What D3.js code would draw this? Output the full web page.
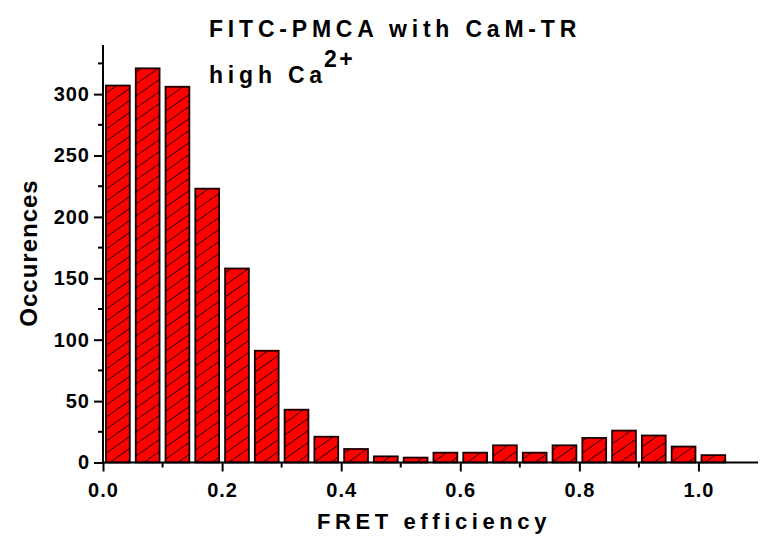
<!DOCTYPE html>
<html>
<head>
<meta charset="utf-8">
<script src="https://cdn.jsdelivr.net/npm/d3@7"></script>
<style>
  html, body { margin: 0; padding: 0; background: #fff; }
  svg { display: block; }
  text { font-family: "Liberation Sans", Arial, sans-serif; font-weight: bold; fill: #000; }
</style>
</head>
<body>
<svg id="chart" width="762" height="537"></svg>
<script>
// Histogram of FRET efficiency, bins of width 0.05 starting at 0.0
const binStarts = [0.00, 0.05, 0.10, 0.15, 0.20, 0.25, 0.30, 0.35, 0.40, 0.45,
                   0.50, 0.55, 0.60, 0.65, 0.70, 0.75, 0.80, 0.85, 0.90, 0.95, 1.00];
const counts    = [307, 321, 306, 223, 158, 91, 43, 21, 11, 5,
                   4, 8, 8, 14, 8, 14, 20, 26, 22, 13, 6];
const binWidth = 0.05;

const xTickValues = [0.0, 0.2, 0.4, 0.6, 0.8, 1.0];
const xMinorTicks = [0.1, 0.3, 0.5, 0.7, 0.9];
const yTickValues = [0, 50, 100, 150, 200, 250, 300];
const yMinorTicks = [25, 75, 125, 175, 225, 275, 325];

const titleLine1 = "FITC-PMCA with CaM-TR";
const titleLine2 = "high Ca";
const titleSup = "2+";
const xLabel = "FRET efficiency";
const yLabel = "Occurences";

const svg = d3.select("#chart");

const plot = { left: 103, right: 758, top: 45, bottom: 462.5 };

const x = d3.scaleLinear().domain([0, 1.1]).range([plot.left, plot.right]);
const y = d3.scaleLinear().domain([0, 340]).range([plot.bottom, plot.top]);

// diagonal hatch fill
const defs = svg.append("defs");
const pat = defs.append("pattern")
  .attr("id", "hatch")
  .attr("patternUnits", "userSpaceOnUse")
  .attr("width", 17)
  .attr("height", 12);
pat.append("rect").attr("width", 17).attr("height", 12).attr("fill", "#ff0000");
pat.append("path")
  .attr("d", "M0,12 L17,0 M-17,12 L0,0 M17,24 L34,0 M0,24 L17,12 M0,0 L17,-12")
  .attr("stroke", "#000").attr("stroke-width", 0.9).attr("fill", "none");

const bars = binStarts.map((s, i) => ({ start: s, count: counts[i] }));
const gapFrac = 0.1;

svg.append("g")
  .selectAll("rect")
  .data(bars)
  .join("rect")
  .attr("x", d => x(d.start + binWidth * gapFrac))
  .attr("width", d => x(d.start + binWidth * (1 - gapFrac)) - x(d.start + binWidth * gapFrac))
  .attr("y", d => y(d.count))
  .attr("height", d => y(0) - y(d.count))
  .attr("fill", "url(#hatch)")
  .attr("stroke", "#1a0000")
  .attr("stroke-width", 1.8);

const tickFont = sel => sel
  .style("font-size", "20px").style("font-family", "Liberation Sans, Arial, sans-serif")
  .style("font-weight", "bold").attr("fill", "#000").style("letter-spacing", "1px");

// x axis
const xAxis = d3.axisBottom(x)
  .tickValues(xTickValues)
  .tickFormat(d3.format(".1f"))
  .tickSize(9)
  .tickPadding(11);
const gx = svg.append("g")
  .attr("transform", `translate(0,${plot.bottom})`)
  .call(xAxis);
gx.select(".domain").attr("d", `M${plot.left},0H${plot.right}`).attr("stroke-width", 2);
gx.selectAll(".tick line").attr("stroke-width", 2);
gx.selectAll(".tick text").call(tickFont);
gx.append("g").selectAll("line")
  .data(xMinorTicks).join("line")
  .attr("x1", d => x(d)).attr("x2", d => x(d))
  .attr("y1", 0).attr("y2", 5)
  .attr("stroke", "#000").attr("stroke-width", 2);

// y axis
const yAxis = d3.axisLeft(y)
  .tickValues(yTickValues)
  .tickSize(9)
  .tickPadding(4);
const gy = svg.append("g")
  .attr("transform", `translate(${plot.left},0)`)
  .call(yAxis);
gy.select(".domain").attr("d", `M0,${plot.top}V${plot.bottom}`).attr("stroke-width", 2);
gy.selectAll(".tick line").attr("stroke-width", 2);
gy.selectAll(".tick text").call(tickFont);
gy.append("g").selectAll("line")
  .data(yMinorTicks).join("line")
  .attr("x1", 0).attr("x2", -5)
  .attr("y1", d => y(d)).attr("y2", d => y(d))
  .attr("stroke", "#000").attr("stroke-width", 2);

// axis titles
svg.append("text")
  .attr("x", 434).attr("y", 529)
  .attr("text-anchor", "middle")
  .style("font-size", "22px").style("letter-spacing", "4.6px")
  .text(xLabel);

svg.append("text")
  .attr("transform", "translate(37,253) rotate(-90)")
  .attr("text-anchor", "middle")
  .style("font-size", "24px").style("letter-spacing", "1px")
  .text(yLabel);

// title
svg.append("text")
  .attr("x", 209).attr("y", 37)
  .style("font-size", "23px").style("letter-spacing", "4.8px")
  .text(titleLine1);

const t2 = svg.append("text")
  .attr("x", 209).attr("y", 83)
  .style("font-size", "23px").style("letter-spacing", "4.8px");
t2.append("tspan").text(titleLine2);
t2.append("tspan").attr("dx", -3).attr("dy", -16).style("letter-spacing", "2.5px").text(titleSup);
</script>
</body>
</html>
